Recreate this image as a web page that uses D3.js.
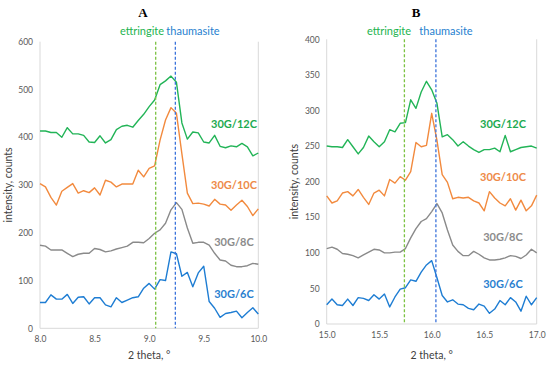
<!DOCTYPE html>
<html><head><meta charset="utf-8">
<script src="https://cdn.jsdelivr.net/npm/d3@7"></script>
<style>body{margin:0;background:#fff}svg{display:block}</style>
</head><body>
<svg id="c" width="550" height="369"></svg>
<script>
// 2-theta sampling (degrees)
const thetaA = [8.00,8.05,8.10,8.15,8.20,8.25,8.30,8.35,8.40,8.45,8.50,8.55,8.60,8.65,8.70,8.75,8.80,8.85,8.90,8.95,9.00,9.05,9.10,9.15,9.20,9.25,9.30,9.35,9.40,9.45,9.50,9.55,9.60,9.65,9.70,9.75,9.80,9.85,9.90,9.95,10.00];
const thetaB = [15.00,15.05,15.10,15.15,15.20,15.25,15.30,15.35,15.40,15.45,15.50,15.55,15.60,15.65,15.70,15.75,15.80,15.85,15.90,15.95,16.00,16.05,16.10,16.15,16.20,16.25,16.30,16.35,16.40,16.45,16.50,16.55,16.60,16.65,16.70,16.75,16.80,16.85,16.90,16.95,17.00];

const seriesNames = ["30G/12C","30G/10C","30G/8C","30G/6C"];

// Panel A intensities
const a12C = [413,413,410,410,400,420,407,407,404,390,389,403,388,395,416,423,425,421,435,448,464,478,510,518,528,515,430,396,411,409,390,388,404,381,378,382,380,387,380,361,367];
const a10C = [303,296,274,258,287,295,303,283,288,284,294,279,310,306,296,302,302,302,331,317,335,340,394,436,462,450,365,283,261,262,260,256,270,260,258,247,258,268,255,236,250];
const a8C  = [174,172,164,164,164,157,150,155,157,157,167,165,160,162,166,169,172,180,180,179,188,199,206,220,248,263,249,210,178,180,180,174,157,143,141,132,129,129,131,136,134];
const a6C  = [54,54,70,61,61,71,52,65,66,51,64,64,49,45,64,54,59,64,66,84,94,82,102,100,160,156,109,117,87,116,130,56,42,23,31,33,36,22,33,43,30];

// Panel B intensities
const b12C = [250,249,249,248,259,249,239,248,264,256,249,256,273,270,282,283,315,303,326,341,329,310,263,266,259,250,256,250,245,241,245,245,247,242,265,242,245,248,249,250,247];
const b10C = [180,170,173,184,186,180,189,178,168,184,188,180,203,198,207,202,214,255,249,251,296,258,210,199,176,178,177,178,173,170,159,186,177,170,166,176,160,174,159,166,181];
const b8C  = [106,108,105,99,98,96,93,97,101,105,104,100,100,101,101,106,121,134,144,148,158,169,156,132,111,102,96,96,102,98,93,90,90,91,93,96,95,92,97,105,100];
const b6C  = [27,35,27,26,35,26,37,36,33,41,35,42,24,38,49,51,62,60,73,83,89,65,40,31,34,28,27,22,20,28,25,15,21,33,27,37,31,18,39,27,37];

// axis ticks
const xTicksA = [8.0,8.5,9.0,9.5,10.0];
const xTicksB = [15.0,15.5,16.0,16.5,17.0];
const yTicksA = [0,100,200,300,400,500,600];
const yTicksB = [0,50,100,150,200,250,300,350,400];

// reference lines
const ettringite = {A:9.06, B:15.74};
const thaumasite = {A:9.24, B:16.04};

// label anchor values (data units) for series names
const labelValsA = [428, 300, 181, 71];
const labelValsB = [281, 207, 122, 56];

const lineColors = ["#22b457","#f28a3e","#8a8a8a","#1e7dd3"];
const labelColors = ["#1daa50","#ee8a48","#8c8c8c","#2a7fd0"];

const svg = d3.select("#c");
const FONT = "Lato, 'Liberation Sans', sans-serif";

function panel(opt){
  const g = svg.append("g");
  const x = d3.scaleLinear().domain(opt.xDom).range([opt.x0, opt.x1]);
  const y = d3.scaleLinear().domain(opt.yDom).range([opt.y1, opt.y0]);

  // frame
  g.append("line").attr("x1",opt.x0).attr("x2",opt.x0).attr("y1",opt.y0).attr("y2",opt.y1).attr("stroke","#d9d9d9");
  g.append("line").attr("x1",opt.x1).attr("x2",opt.x1).attr("y1",opt.y0).attr("y2",opt.y1).attr("stroke","#d9d9d9");
  g.append("line").attr("x1",opt.x0).attr("x2",opt.x1).attr("y1",opt.y1).attr("y2",opt.y1).attr("stroke","#d9d9d9");

  // axes (labels only)
  const xa = g.append("g").attr("transform",`translate(0,${opt.y1})`)
    .call(d3.axisBottom(x).tickValues(opt.xTicks).tickFormat(d3.format(".1f")).tickSize(0).tickPadding(8));
  const ya = g.append("g").attr("transform",`translate(${opt.x0},0)`)
    .call(d3.axisLeft(y).tickValues(opt.yTicks).tickFormat(d3.format("d")).tickSize(0).tickPadding(7));
  [xa,ya].forEach(a=>{
    a.select(".domain").remove();
    a.selectAll("text").attr("font-family",FONT).attr("font-size","8.5px").attr("fill","#595959");
  });

  // data lines
  const line = d3.line().x(d=>x(d[0])).y(d=>y(d[1]));
  opt.series.forEach((s,i)=>{
    g.append("path").datum(opt.theta.map((t,j)=>[t,s[j]]))
      .attr("d",line).attr("fill","none").attr("stroke",lineColors[i])
      .attr("stroke-width",1.4).attr("stroke-linejoin","round");
  });

  // reference dashed lines
  g.append("line").attr("x1",x(opt.ett)).attr("x2",x(opt.ett)).attr("y1",opt.y0).attr("y2",opt.y1)
    .attr("stroke","#7cc242").attr("stroke-width",1.3).attr("stroke-dasharray","3,2");
  g.append("line").attr("x1",x(opt.tha)).attr("x2",x(opt.tha)).attr("y1",opt.y0).attr("y2",opt.y1)
    .attr("stroke","#3b73db").attr("stroke-width",1.3).attr("stroke-dasharray","3,2");

  // series labels
  seriesNames.forEach((n,i)=>{
    g.append("text").attr("x",opt.labelX).attr("y",y(opt.labelVals[i])+4)
      .attr("text-anchor","middle").attr("font-family",FONT).attr("font-size","11px")
      .attr("font-weight","bold").attr("fill",labelColors[i]).text(n);
  });

  // phase labels
  g.append("text").attr("x",opt.ettX).attr("y",34.5).attr("text-anchor","middle")
    .attr("font-family",FONT).attr("font-size","11px").attr("fill","#1db44f").text("ettringite");
  g.append("text").attr("x",opt.thaX).attr("y",34.5).attr("text-anchor","middle")
    .attr("font-family",FONT).attr("font-size","11px").attr("fill","#1f7fcf").text("thaumasite");

  // title
  g.append("text").attr("x",opt.titleX).attr("y",17).attr("text-anchor","middle")
    .attr("font-family","'Liberation Serif', 'DejaVu Serif', serif").attr("font-weight","bold")
    .attr("font-size","13px").attr("fill","#000").text(opt.title);

  // axis titles
  g.append("text").attr("x",(opt.x0+opt.x1)/2).attr("y",359).attr("text-anchor","middle")
    .attr("font-family",FONT).attr("font-size","10.5px").attr("fill","#404040").text("2 theta, °");
  g.append("text").attr("transform",`translate(${opt.yTitleX},${(opt.y0+opt.y1)/2}) rotate(-90)`)
    .attr("text-anchor","middle").attr("font-family",FONT).attr("font-size","10.5px")
    .attr("fill","#404040").text("intensity, counts");
}

panel({x0:40,x1:258.3,y0:41.7,y1:328.3,xDom:[8,10],yDom:[0,600],theta:thetaA,
  series:[a12C,a10C,a8C,a6C],xTicks:xTicksA,yTicks:yTicksA,ett:ettringite.A,tha:thaumasite.A,
  labelX:234,labelVals:labelValsA,ettX:142,thaX:193,titleX:143,title:"A",yTitleX:12});
panel({x0:326.7,x1:536.7,y0:39.3,y1:324,xDom:[15,17],yDom:[0,400],theta:thetaB,
  series:[b12C,b10C,b8C,b6C],xTicks:xTicksB,yTicks:yTicksB,ett:ettringite.B,tha:thaumasite.B,
  labelX:503,labelVals:labelValsB,ettX:389,thaX:446,titleX:416,title:"B",yTitleX:298});
</script>
</body></html>
